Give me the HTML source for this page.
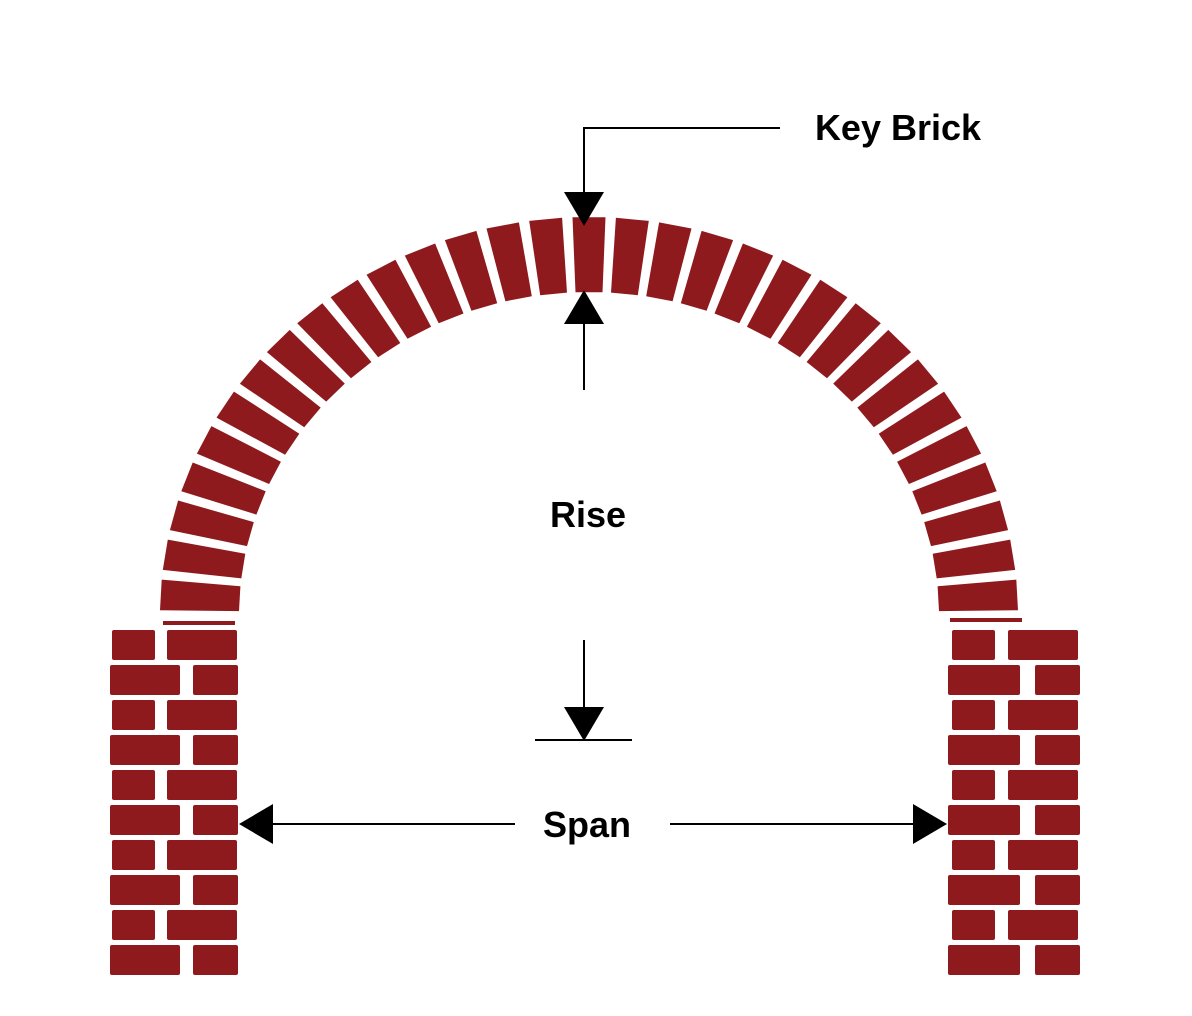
<!DOCTYPE html>
<html><head><meta charset="utf-8"><style>
html,body{margin:0;padding:0;background:#fff;}
svg{display:block;}
text{font-family:"Liberation Sans",sans-serif;font-weight:bold;fill:#000;}
</style></head><body>
<svg id="s" width="1192" height="1016" viewBox="0 0 1192 1016" xmlns="http://www.w3.org/2000/svg">
<g id="bricks" fill="#8f1a1e"></g>
<g stroke="#000" stroke-width="2" fill="none">
<polyline points="780,128 584,128 584,195"/>
<line x1="584" y1="322" x2="584" y2="390"/>
<line x1="584" y1="640" x2="584" y2="710"/>
<line x1="535" y1="740" x2="632" y2="740"/>
<line x1="272" y1="824" x2="515" y2="824"/>
<line x1="670" y1="824" x2="914" y2="824"/>
</g>
<g fill="#000">
<polygon points="564,192 604,192 584,226"/>
<polygon points="564,324 604,324 584,290"/>
<polygon points="564,707 604,707 584,741"/>
<polygon points="273,804 273,844 239,824"/>
<polygon points="913,804 913,844 947,824"/>
</g>
<text x="898" y="140" font-size="36" text-anchor="middle">Key Brick</text>
<text x="588" y="527" font-size="36" text-anchor="middle">Rise</text>
<text x="587" y="837" font-size="36" text-anchor="middle">Span</text>
</svg>
<script>
(function(){
var g=document.getElementById('bricks'),h='';
var cx=589,cy=615,ro=[429,398],ri=[350,323];
var step=180/31,w=step*0.76;
function pt(r,a){a=a*Math.PI/180;return (cx+r[0]*Math.cos(a)).toFixed(1)+','+(cy-r[1]*Math.sin(a)).toFixed(1);}
for(var i=0;i<31;i++){
 var c=step*(i+0.5);
 h+='<polygon points="'+pt(ro,c-w/2)+' '+pt(ro,c+w/2)+' '+pt(ri,c+w/2)+' '+pt(ri,c-w/2)+'"/>';
}
function r(x1,x2,y){h+='<rect x="'+x1+'" y="'+y+'" width="'+(x2-x1)+'" height="30" rx="2"/>';}
for(var k=0;k<10;k++){
 var y=630+35*k;
 if(k%2==0){r(112,155,y);r(167,237,y);r(952,995,y);r(1008,1078,y);}
 else{r(110,180,y);r(193,238,y);r(948,1020,y);r(1035,1080,y);}
}
h+='<rect x="163" y="621" width="72" height="4"/><rect x="950" y="618" width="72" height="4"/>';
g.innerHTML=h;
})();
</script>
</body></html>
